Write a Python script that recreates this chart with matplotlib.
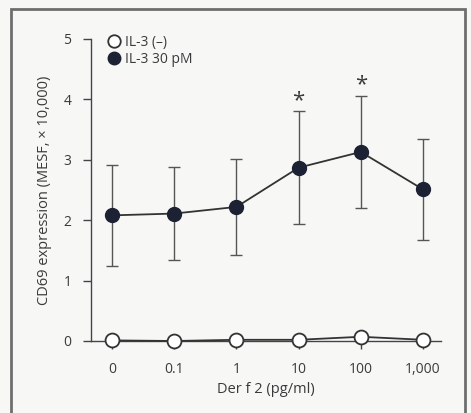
import matplotlib.pyplot as plt
from matplotlib.patches import Rectangle
import numpy as np

# categories (Der f 2, pg/ml)
doses = ['0', '0.1', '1', '10', '100', '1,000']

# IL-3 30 pM (filled)
il3_mean = [2.08, 2.11, 2.22, 2.87, 3.13, 2.51]
il3_err = [0.84, 0.77, 0.80, 0.94, 0.92, 0.83]

# IL-3 (-) (open)
neg_mean = [0.01, 0.00, 0.02, 0.02, 0.07, 0.02]
neg_err = [0.10, 0.10, 0.10, 0.10, 0.10, 0.10]

# significance marks
star_idx = [3, 4]
star_y = [3.97, 4.24]

plt.rcParams['font.family'] = ['Open Sans', 'DejaVu Sans']
txt = '#3a3a3a'
bg = '#f7f8f6'

fig = plt.figure(figsize=(4.71, 4.13), dpi=100, facecolor=bg)
ax = fig.add_axes([91/471, 1-341/413, 350/471, 302/413])
ax.set_facecolor(bg)

# frame around the panel
fig.patches.append(Rectangle((11/471, -0.05), 454/471, 1.05-9/413, transform=fig.transFigure,
                             fill=False, edgecolor='#6e6e6e', linewidth=2))

x = np.arange(len(doses))

ax.errorbar(x, il3_mean, yerr=il3_err, fmt='none', ecolor='#555555', elinewidth=1,
            capsize=4, capthick=1, zorder=2, clip_on=False)
ax.plot(x, il3_mean, '-', color='#333333', lw=1.3, zorder=3)
ax.plot(x, il3_mean, 'o', color='#1c2233', ms=10, zorder=4, label='IL-3 30 pM')

ax.errorbar(x, neg_mean, yerr=[neg_err, [0]*len(x)], fmt='none', ecolor='#555555',
            elinewidth=1, capsize=0, zorder=2, clip_on=False)
ax.plot(x, neg_mean, '-', color='#333333', lw=1.3, zorder=3, clip_on=False)
ax.plot(x, neg_mean, 'o', mfc='white', mec='#333333', mew=1.3, ms=10, zorder=4,
        clip_on=False, label='IL-3 (\u2013)')

for i, yv in zip(star_idx, star_y):
    ax.text(x[i], yv, '*', ha='center', va='center', fontsize=16, color=txt)

ax.set_xlim(-0.34, 5.29)
ax.set_ylim(0, 5)
ax.set_xticks(x)
ax.set_xticklabels(doses)
ax.set_yticks(range(6))
for s in ['top', 'right']:
    ax.spines[s].set_visible(False)
for s in ['left', 'bottom']:
    ax.spines[s].set_color('#444444')
    ax.spines[s].set_linewidth(1)
ax.tick_params(direction='out', length=6, width=1, color='#444444', labelcolor=txt,
               labelsize=10)
ax.tick_params(axis='x', pad=9)
ax.tick_params(axis='y', pad=8)

ax.set_xlabel('Der f 2 (pg/ml)', fontsize=10.5, color=txt, labelpad=4)
ax.set_ylabel('CD69 expression (MESF, \u00d7 10,000)', fontsize=10.5, color=txt, labelpad=8)

h, l = ax.get_legend_handles_labels()
ax.legend(h[::-1], l[::-1], loc='upper left', bbox_to_anchor=(0.026, 1.04), frameon=False,
          fontsize=10, handlelength=0.8, handletextpad=0.4, labelspacing=0.12,
          borderaxespad=0.2, labelcolor=txt, markerscale=0.9)

fig.savefig('out.png', dpi=100, facecolor=bg)
